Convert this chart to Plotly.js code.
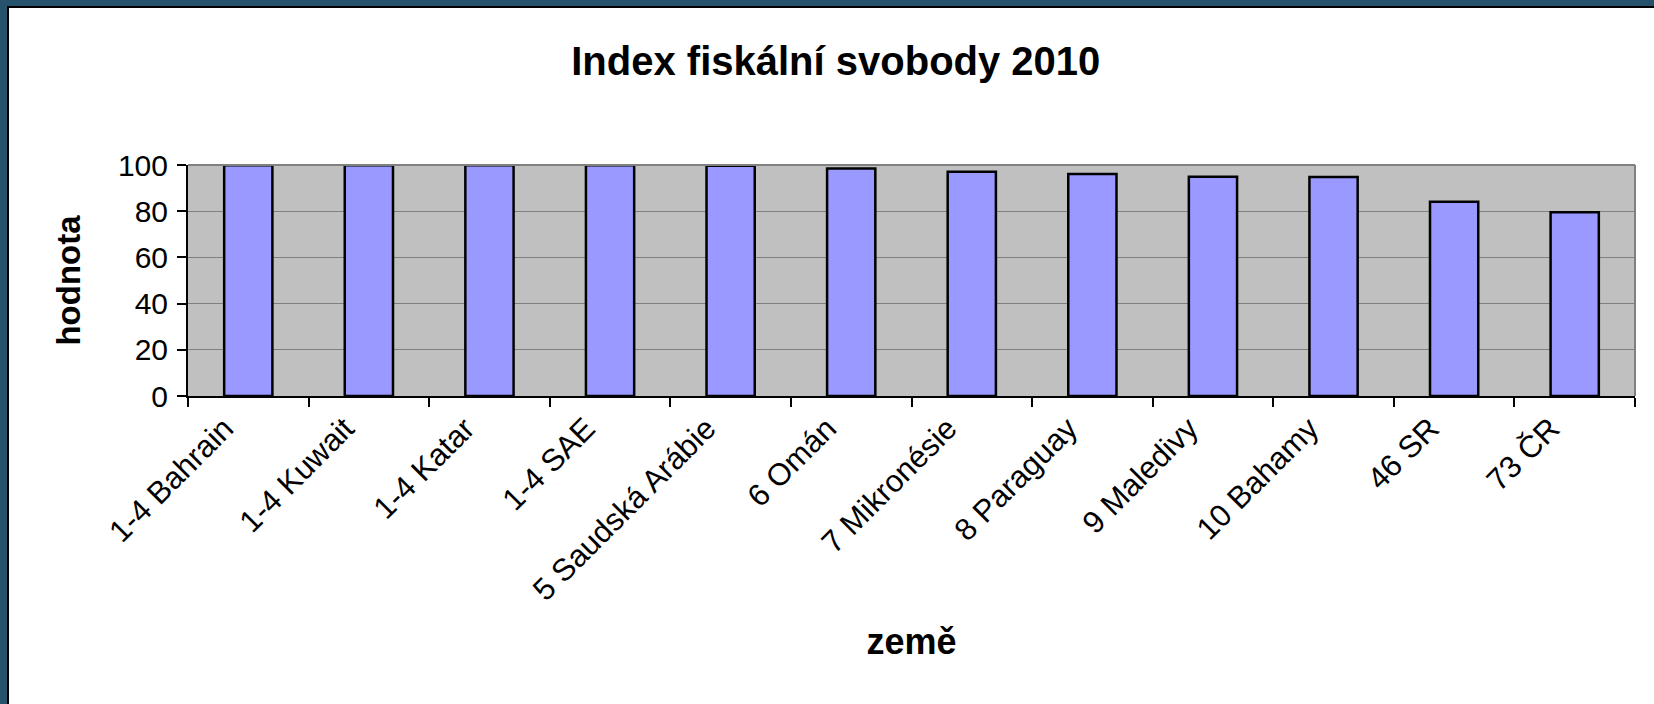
<!DOCTYPE html>
<html>
<head>
<meta charset="utf-8">
<script src="https://cdn.plot.ly/plotly-3.0.1.min.js"></script>
<style>
  html, body { margin: 0; padding: 0; }
  body { width: 1654px; height: 704px; overflow: hidden; background: #26526d; position: relative; }
  #frame { position: absolute; left: 7px; top: 6px; width: 1647px; height: 698px; border-left: 2px solid #000; border-top: 2px solid #000; background: #fff; }
  #chart { position: absolute; left: 0; top: 0; width: 1647px; height: 698px; }
</style>
</head>
<body>
<div id="frame"><div id="chart"></div></div>
<script>
const categories = ['1-4 Bahrain', '1-4 Kuwait', '1-4 Katar', '1-4 SAE', '5 Saudská Arábie', '6 Omán', '7 Mikronésie', '8 Paraguay', '9 Maledivy', '10 Bahamy', '46 SR', '73 ČR'];
const values = [99.9, 99.9, 99.9, 99.9, 99.7, 98.5, 97.1, 96.1, 94.9, 94.8, 84.1, 79.5];
const yTicks = [0, 20, 40, 60, 80, 100];
const chartTitle = 'Index fiskální svobody 2010';
const xTitle = 'země';
const yTitle = 'hodnota';

const font = 'Liberation Sans, Arial, sans-serif';

const trace = {
  type: 'bar',
  x: categories,
  y: values,
  marker: { color: '#9999ff', line: { color: '#000000', width: 2.5 } },
  hoverinfo: 'x+y'
};

const layout = {
  width: 1647,
  height: 698,
  margin: { l: 179, r: 21, t: 157, b: 310, autoexpand: false },
  paper_bgcolor: '#ffffff',
  plot_bgcolor: '#c0c0c0',
  showlegend: false,
  bargap: 0.6,
  font: { family: font, color: '#000', size: 28 },
  title: {
    text: '<b>' + chartTitle + '</b>',
    font: { family: font, size: 40, color: '#000' },
    x: 0.502, xref: 'container', xanchor: 'center',
    y: 1 - 53 / 698, yref: 'container', yanchor: 'middle'
  },
  xaxis: {
    type: 'category',
    tickangle: -45,
    tickson: 'boundaries',
    ticks: 'outside', ticklen: 9, tickwidth: 2, tickcolor: '#000',
    showline: true, linecolor: '#000', linewidth: 2,
    showgrid: false,
    ticklabelshift: -24,
    tickfont: { family: font, size: 31, color: '#000' },
    title: { text: '<b>' + xTitle + '</b>', font: { family: font, size: 36, color: '#000' }, standoff: 22 },
    automargin: false
  },
  yaxis: {
    range: [0, 100],
    tickvals: yTicks,
    ticktext: yTicks.map(String),
    ticks: 'outside', ticklen: 9, tickwidth: 2, tickcolor: '#000',
    showline: true, linecolor: '#000', linewidth: 2,
    showgrid: true, gridcolor: '#808080', gridwidth: 1,
    zeroline: false,
    tickfont: { family: font, size: 30, color: '#000' },
    ticklabelstandoff: 3,
    title: { text: '<b>' + yTitle + '</b>', font: { family: font, size: 33, color: '#000' }, standoff: 27 },
    automargin: false
  },
  shapes: [
    { type: 'line', xref: 'paper', yref: 'paper', x0: 0, x1: 1, y0: 1, y1: 1, line: { color: '#808080', width: 2 } },
    { type: 'line', xref: 'paper', yref: 'paper', x0: 1, x1: 1, y0: 0, y1: 1, line: { color: '#808080', width: 2 } }
  ]
};

Plotly.newPlot('chart', [trace], layout, { displayModeBar: false, staticPlot: true });
</script>
</body>
</html>
